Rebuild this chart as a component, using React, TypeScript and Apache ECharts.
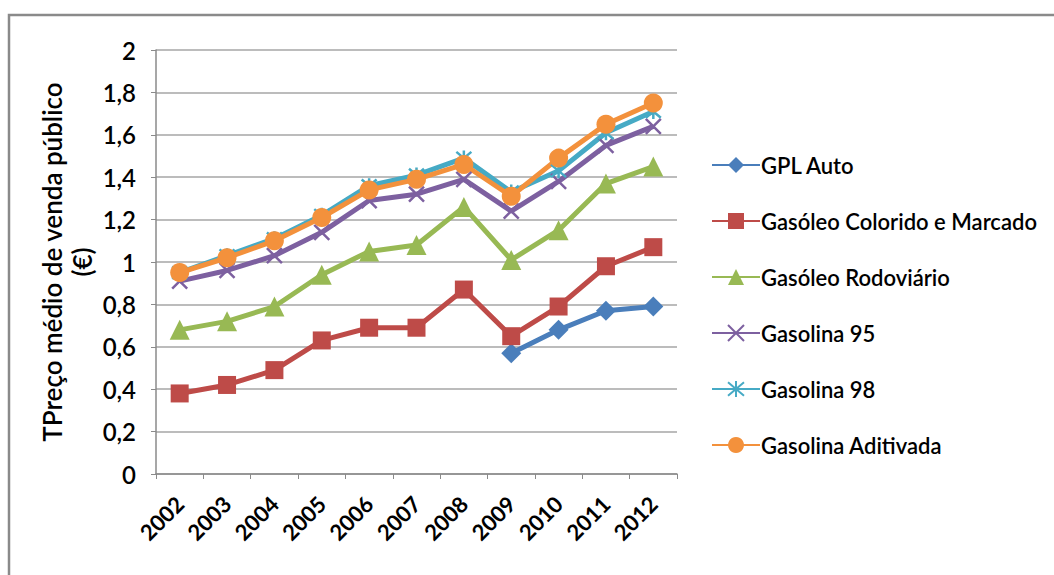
import React, { useEffect, useRef } from "react";
import * as echarts from "echarts";

const years = ["2002", "2003", "2004", "2005", "2006", "2007", "2008", "2009", "2010", "2011", "2012"];
const gplAuto = [null, null, null, null, null, null, null, 0.57, 0.68, 0.77, 0.79];
const gasoleoColorido = [0.38, 0.42, 0.49, 0.63, 0.69, 0.69, 0.87, 0.65, 0.79, 0.98, 1.07];
const gasoleoRodoviario = [0.68, 0.72, 0.79, 0.94, 1.05, 1.08, 1.26, 1.01, 1.15, 1.37, 1.45];
const gasolina95 = [0.91, 0.96, 1.03, 1.14, 1.29, 1.32, 1.39, 1.24, 1.38, 1.55, 1.64];
const gasolina98 = [0.95, 1.03, 1.11, 1.22, 1.36, 1.41, 1.49, 1.33, 1.43, 1.61, 1.71];
const gasolinaAditivada = [0.95, 1.02, 1.1, 1.21, 1.34, 1.39, 1.46, 1.31, 1.49, 1.65, 1.75];

const FONT = "Lato";

export default function App() {
  const ref = useRef<HTMLDivElement>(null);
  useEffect(() => {
    const chart = echarts.init(ref.current!, null, { renderer: "svg" });
    const mk = (name: string, data: any[], color: string, symbol: string, size: number, stroke = false) => ({
      name,
      type: "line",
      data,
      symbol,
      symbolSize: size,
      showAllSymbol: true,
      lineStyle: { color, width: 5 },
      itemStyle: stroke
        ? { color: "none", borderColor: color, borderWidth: 2.5 }
        : { color, borderWidth: 0 },
      emphasis: { disabled: true },
    });
    chart.setOption({
      animation: false,
      backgroundColor: "#fff",
      graphic: [
        {
          type: "rect",
          shape: { x: 9, y: 15, width: 1100, height: 700 },
          style: { fill: "none", stroke: "#8a8a8a", lineWidth: 2.5 },
          silent: true,
        },
      ],
      grid: { left: 156, right: 377, top: 50, bottom: 101, containLabel: false },
      legend: {
        orient: "vertical",
        left: 706,
        top: 149,
        itemWidth: 48,
        itemHeight: 20,
        itemGap: 34,
        textStyle: {
          fontFamily: FONT,
          fontSize: 22,
          lineHeight: 22,
          fontWeight: 600,
          color: "#000",
          padding: [0, 0, 0, -4],
        },
        data: ["GPL Auto", "Gasóleo Colorido e Marcado", "Gasóleo Rodoviário", "Gasolina 95", "Gasolina 98", "Gasolina Aditivada"],
      },
      xAxis: {
        type: "category",
        data: years,
        boundaryGap: true,
        axisLine: { lineStyle: { color: "#8a8a8a", width: 1.5 } },
        axisTick: { show: true, length: 5, lineStyle: { color: "#8a8a8a" } },
        axisLabel: {
          rotate: 45,
          margin: 26,
          fontFamily: FONT,
          fontSize: 22,
          fontWeight: "bold",
          color: "#000",
        },
      },
      yAxis: {
        type: "value",
        min: 0,
        max: 2,
        interval: 0.2,
        name: "TPreço médio de venda público\n(€)",
        nameLocation: "middle",
        nameRotate: 90,
        nameGap: 59,
        nameTextStyle: { fontFamily: FONT, fontSize: 26, fontWeight: 600, color: "#000", lineHeight: 30 },
        axisLine: { show: true, lineStyle: { color: "#8a8a8a", width: 1.5 } },
        axisTick: { show: true, length: 5, lineStyle: { color: "#8a8a8a" } },
        splitLine: { lineStyle: { color: "#a6a6a6", width: 1.5 } },
        axisLabel: {
          margin: 20,
          fontFamily: FONT,
          fontSize: 24,
          fontWeight: 600,
          color: "#000",
          formatter: (v: number) => String(Math.round(v * 10) / 10).replace(".", ","),
        },
      },
      series: [
        mk("GPL Auto", gplAuto, "#4A7EBB", "diamond", 20),
        mk("Gasóleo Colorido e Marcado", gasoleoColorido, "#BE4B48", "rect", 18),
        mk("Gasóleo Rodoviário", gasoleoRodoviario, "#98B954", "triangle", 20),
        mk("Gasolina 95", gasolina95, "#7D60A0", "path://M0,0L10,10M10,0L0,10", 15, true),
        mk("Gasolina 98", gasolina98, "#46AAC5", "path://M0,0L10,10M10,0L0,10M5,-1L5,11", 15, true),
        mk("Gasolina Aditivada", gasolinaAditivada, "#F3913C", "circle", 19),
      ],
    });
    return () => chart.dispose();
  }, []);
  return <div ref={ref} style={{ position: "fixed", left: 0, top: 0, width: 1054, height: 575 }} />;
}
